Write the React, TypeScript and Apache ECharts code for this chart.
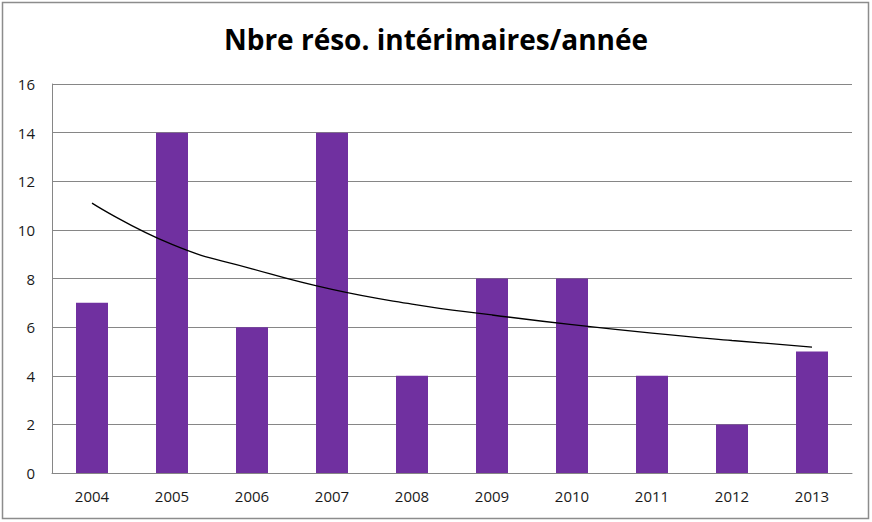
import React, { useEffect, useRef } from "react";
import * as echarts from "echarts";

const categories = ["2004", "2005", "2006", "2007", "2008", "2009", "2010", "2011", "2012", "2013"];
const values = [7, 14, 6, 14, 4, 8, 8, 4, 2, 5];
const trendValues = [11.1, 9.4, 8.4, 7.55, 6.95, 6.5, 6.1, 5.75, 5.45, 5.18];
const title = "Nbre réso. intérimaires/année";

export default function App() {
  const ref = useRef<HTMLDivElement>(null);
  useEffect(() => {
    const chart = echarts.init(ref.current!, null, { renderer: "svg" });
    chart.setOption({
      animation: false,
      backgroundColor: "#ffffff",
      graphic: [
        {
          type: "rect",
          shape: { x: 2.5, y: 2.5, width: 866, height: 516 },
          style: { fill: "none", stroke: "#8c8c8c", lineWidth: 1.5 },
          silent: true,
        },
      ],
      title: {
        text: title,
        left: "center",
        top: 20,
        textStyle: {
          fontFamily: "Open Sans",
          fontSize: 28,
          fontWeight: "bold",
          color: "#000000",
        },
      },
      grid: { left: 52, right: 20, top: 84, bottom: 49, containLabel: false },
      xAxis: {
        type: "category",
        data: categories,
        axisLine: { show: true, lineStyle: { color: "#868686", width: 1 } },
        axisTick: { show: false },
        axisLabel: { color: "#1a1a1a", fontSize: 15, fontFamily: "Open Sans", margin: 15 },
      },
      yAxis: {
        type: "value",
        min: 0,
        max: 16,
        interval: 2,
        axisLine: { show: true, lineStyle: { color: "#868686", width: 1 } },
        axisTick: { show: false },
        axisLabel: { color: "#1a1a1a", fontSize: 15, fontFamily: "Open Sans", margin: 17 },
        splitLine: { show: true, lineStyle: { color: "#868686", width: 1 } },
      },
      series: [
        {
          type: "bar",
          data: values,
          barWidth: "40%",
          itemStyle: { color: "#7030A0" },
        },
        {
          type: "line",
          data: trendValues,
          smooth: true,
          symbol: "none",
          lineStyle: { color: "#000000", width: 1.3 },
          z: 5,
        },
      ],
    });
    return () => chart.dispose();
  }, []);
  return <div ref={ref} style={{ width: 872, height: 522, position: "absolute", left: 0, top: 0 }} />;
}
